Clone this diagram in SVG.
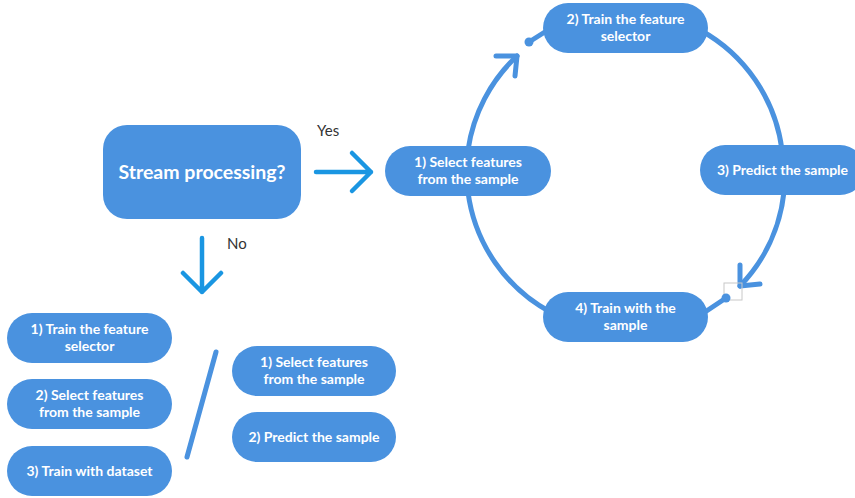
<svg xmlns="http://www.w3.org/2000/svg" width="855" height="498" viewBox="0 0 855 498">
<style>
.n{fill:#4a92df}
.t{fill:#fff;font-family:Lato,"Open Sans",sans-serif;font-weight:700;font-size:14px;text-anchor:middle}
.big{font-size:19.5px}
.c{fill:none;stroke:#4a92df;stroke-width:5;stroke-linecap:round;stroke-linejoin:round}
.a{fill:none;stroke:#1a96e2;stroke-width:4.5;stroke-linecap:round;stroke-linejoin:round}
.lbl{fill:#333;font-family:Lato,"Open Sans",sans-serif;font-size:15px}
</style>
<rect width="855" height="498" fill="#fff"/>
<g id="connectors">
  <path class="a" d="M316 172 H371 M352 153 L371 172 L352 191"/>
  <path class="a" d="M202 238 V292 M183 273 L202 292 L221 273"/>
  <path class="c" d="M468 150 A160 160 0 0 1 517 56"/>
  <path class="c" d="M496 56 H517 L515 76"/>
  <path class="c" d="M529 42 L548 30"/>
  <circle cx="529" cy="42" r="4.5" fill="#4a92df"/>
  <path class="c" d="M700 30 A160 160 0 0 1 782 150"/>
  <path class="c" d="M784 192 A160 160 0 0 1 740 286"/>
  <path class="c" d="M740 265 V286 L760 284"/>
  <rect x="724" y="283" width="18" height="17" fill="none" stroke="#c8c8c8" stroke-width="1"/>
  <path class="c" d="M726 298 L705 312"/>
  <circle cx="726" cy="298" r="4.5" fill="#4a92df"/>
  <path class="c" d="M552 313 A160 160 0 0 1 468 192"/>
  <path class="c" d="M216 352 L187 457"/>
  <text class="lbl" x="317" y="136">Yes</text>
  <text class="lbl" x="227" y="249">No</text>
</g>
<g id="stream">
  <rect class="n" x="103" y="125" width="198" height="94" rx="24"/>
  <text class="t big" x="202" y="179">Stream processing?</text>
</g>
<g id="c1">
  <rect class="n" x="385" y="146" width="166" height="50" rx="25"/>
  <text class="t" x="468" y="166.5">1) Select features</text>
  <text class="t" x="468" y="183.5">from the sample</text>
</g>
<g id="c2">
  <rect class="n" x="543" y="3" width="165" height="50" rx="25"/>
  <text class="t" x="625.5" y="23.5">2) Train the feature</text>
  <text class="t" x="625.5" y="40.5">selector</text>
</g>
<g id="c3">
  <rect class="n" x="700" y="145" width="165" height="50" rx="25"/>
  <text class="t" x="782.5" y="175">3) Predict the sample</text>
</g>
<g id="c4">
  <rect class="n" x="543" y="292" width="165" height="50" rx="25"/>
  <text class="t" x="625.5" y="312.5">4) Train with the</text>
  <text class="t" x="625.5" y="329.5">sample</text>
</g>
<g id="l1">
  <rect class="n" x="7" y="313" width="165" height="50" rx="25"/>
  <text class="t" x="89.5" y="333.5">1) Train the feature</text>
  <text class="t" x="89.5" y="350.5">selector</text>
</g>
<g id="l2">
  <rect class="n" x="7" y="379" width="165" height="50" rx="25"/>
  <text class="t" x="89.5" y="399.5">2) Select features</text>
  <text class="t" x="89.5" y="416.5">from the sample</text>
</g>
<g id="l3">
  <rect class="n" x="7" y="446" width="165" height="50" rx="25"/>
  <text class="t" x="89.5" y="475.5">3) Train with dataset</text>
</g>
<g id="r1">
  <rect class="n" x="232" y="346" width="164" height="50" rx="25"/>
  <text class="t" x="314" y="366.5">1) Select features</text>
  <text class="t" x="314" y="383.5">from the sample</text>
</g>
<g id="r2">
  <rect class="n" x="232" y="412" width="164" height="50" rx="25"/>
  <text class="t" x="314" y="442">2) Predict the sample</text>
</g>
</svg>
